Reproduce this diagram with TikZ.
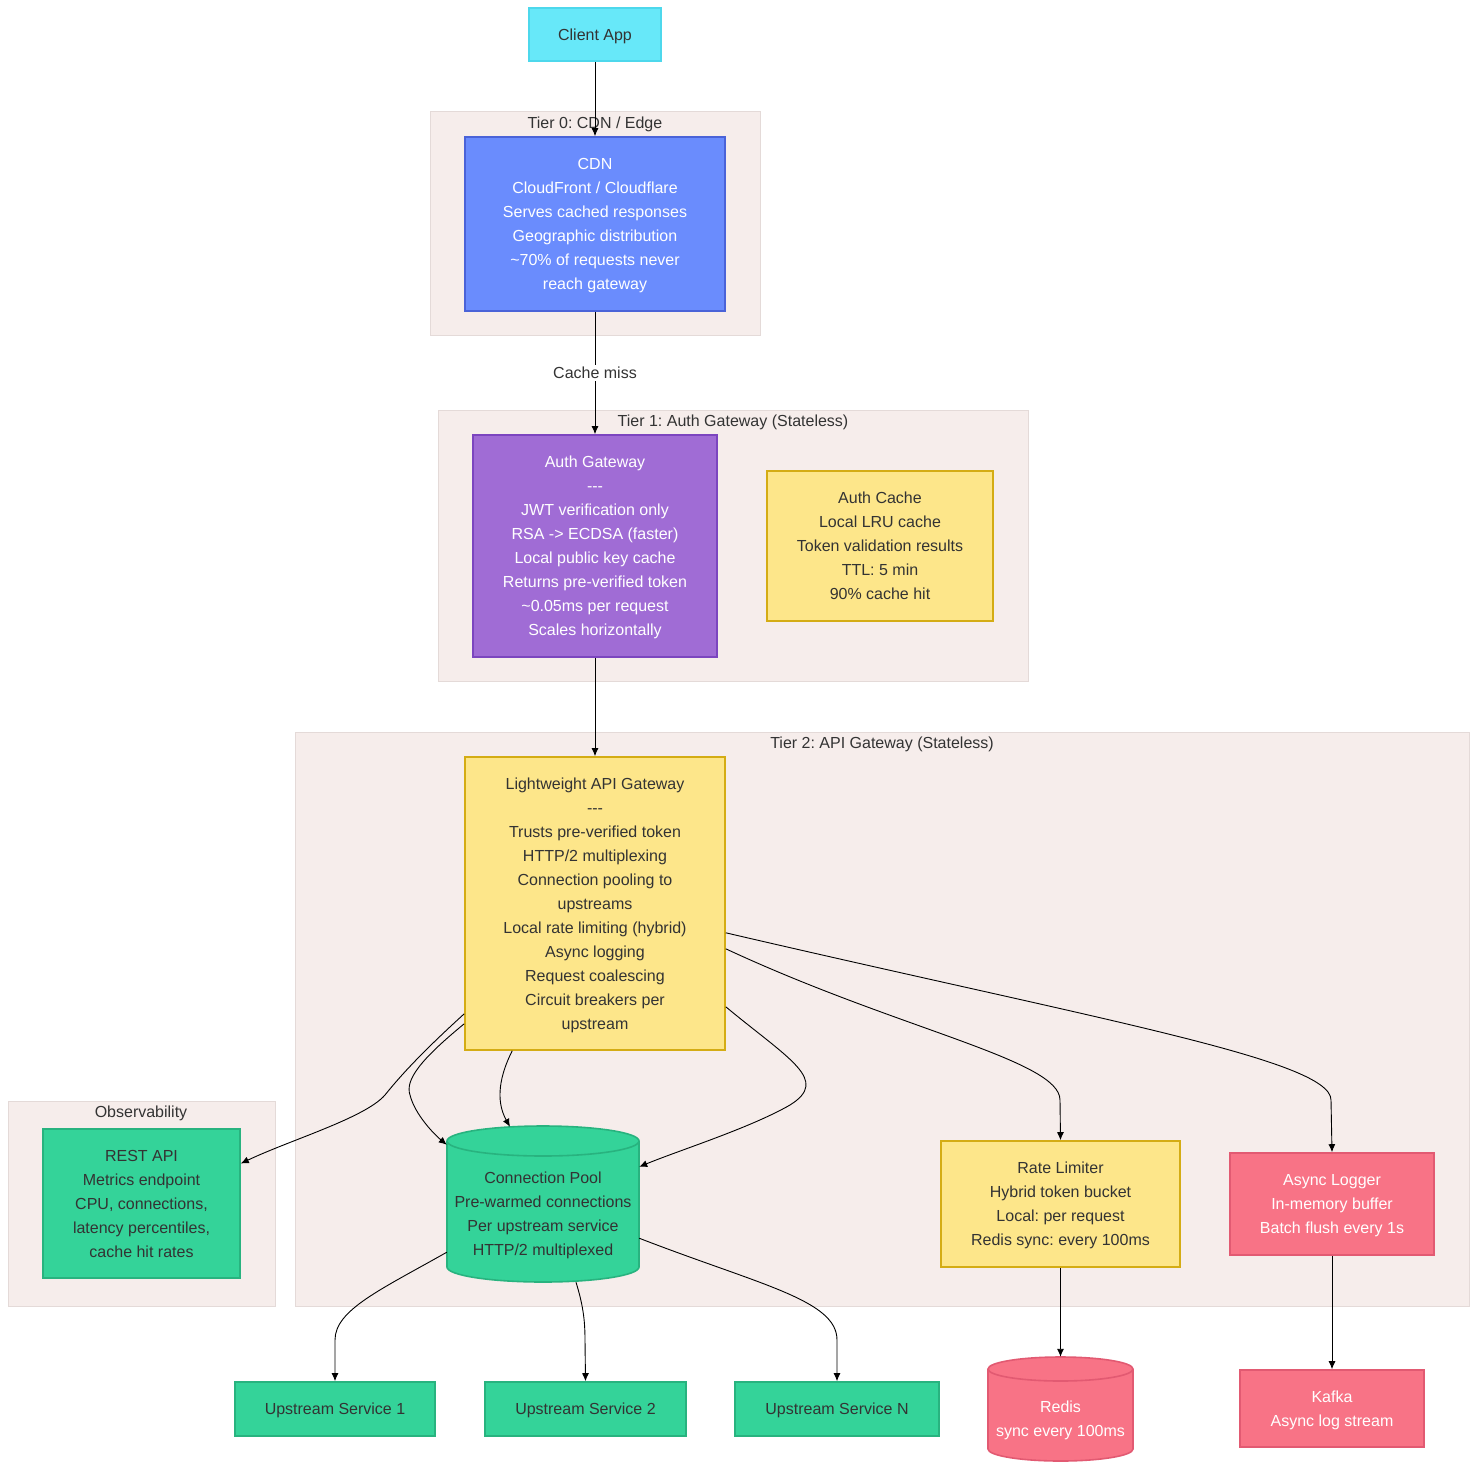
\documentclass[tikz,border=0pt]{standalone}
\usepackage{fontspec}
\setmainfont{Liberation Sans}
\usetikzlibrary{arrows.meta}
\definecolor{clusterfill}{HTML}{F6EDEB}
\definecolor{clusterline}{HTML}{E4DAD8}
\definecolor{textdark}{HTML}{333333}
\definecolor{cyanfill}{HTML}{67E8F9}
\definecolor{cyanline}{HTML}{4DD8EC}
\definecolor{bluefill}{HTML}{6A8CFD}
\definecolor{blueline}{HTML}{4A63D8}
\definecolor{purplefill}{HTML}{A06CD5}
\definecolor{purpleline}{HTML}{7C45BF}
\definecolor{yellowfill}{HTML}{FDE68A}
\definecolor{yellowline}{HTML}{D4AC14}
\definecolor{greenfill}{HTML}{34D399}
\definecolor{greenline}{HTML}{28B37F}
\definecolor{redfill}{HTML}{F87386}
\definecolor{redline}{HTML}{E25A72}
\begin{document}
\begin{tikzpicture}[
        x=1pt, y=-1pt,
        font=\fontsize{16}{24}\selectfont\frenchspacing,
        text=textdark
    ]
    \tikzset{
        tierbox/.style = {draw=clusterline, fill=clusterfill, line width=1pt},
        tierlabel/.style = {inner sep=0pt, text depth=0pt, text=textdark},
        box/.style = {rectangle, line width=1.6pt, align=center, inner sep=0pt, text depth=0pt},
        cyanbox/.style = {box, fill=cyanfill, draw=cyanline},
        bluebox/.style = {box, fill=bluefill, draw=blueline, text=white},
        purplebox/.style = {box, fill=purplefill, draw=purpleline, text=white},
        yellowbox/.style = {box, fill=yellowfill, draw=yellowline},
        greenbox/.style = {box, fill=greenfill, draw=greenline},
        redbox/.style = {box, fill=redfill, draw=redline, text=white},
        dbshape/.style = {line width=1.6pt},
        dbtext/.style = {rectangle, align=center, inner sep=0pt, text depth=0pt},
        link/.style = {-{Latex[length=8pt,width=7pt]}, line width=0.9pt, draw=black},
        edgelabel/.style = {midway, fill=white, inner sep=2pt, text=textdark}
    }
    \useasboundingbox (0,0) rectangle (1477,1469);
    % clusters
    \draw[tierbox] (430,112) rectangle (760,335);
    \node[tierlabel] (tier0) at (595,123) {Tier 0: CDN / Edge};
    \draw[tierbox] (438,410) rectangle (1028,681);
    \node[tierlabel] (tier1) at (733,421) {Tier 1: Auth Gateway (Stateless)};
    \draw[tierbox] (295,732) rectangle (1469,1306);
    \node[tierlabel] (tier2) at (882,743) {Tier 2: API Gateway (Stateless)};
    \draw[tierbox] (8,1101) rectangle (275,1306);
    \node[tierlabel] (obs) at (141,1112) {Observability};
    % nodes
    \node[cyanbox, minimum width=132pt, minimum height=53pt] (client) at (595,34.5) {Client App};
    \node[bluebox, minimum width=260pt, minimum height=174pt] (cdn) at (595,224)
        {CDN\\CloudFront / Cloudflare\\Serves cached responses\\Geographic distribution\\\textasciitilde70\% of requests never\\reach gateway};
    \node[purplebox, minimum width=244pt, minimum height=222pt] (auth) at (595,546)
        {Auth Gateway\\-{}-{}-\\JWT verification only\\RSA -> ECDSA (faster)\\Local public key cache\\Returns pre-verified token\\\textasciitilde0.05ms per request\\Scales horizontally};
    \node[yellowbox, minimum width=226pt, minimum height=150pt] (cache) at (880,546)
        {Auth Cache\\Local LRU cache\\Token validation results\\TTL: 5 min\\90\% cache hit};
    \node[yellowbox, minimum width=260pt, minimum height=293pt] (gw) at (595,903.5)
        {Lightweight API Gateway\\-{}-{}-\\Trusts pre-verified token\\HTTP/2 multiplexing\\Connection pooling to\\upstreams\\Local rate limiting (hybrid)\\Async logging\\Request coalescing\\Circuit breakers per\\upstream};
    \node[greenbox, minimum width=197pt, minimum height=149pt] (rest) at (141.5,1203.5)
        {REST API\\Metrics endpoint\\CPU, connections,\\latency percentiles,\\cache hit rates};
    \coordinate (poolc) at (543,1211.5);
    \path[dbshape, fill=greenfill, draw=greenline]
        ([shift={(-96pt,70.5pt)}]poolc) arc[start angle=180, end angle=0, x radius=96pt, y radius=15pt]
        -- ([shift={(96pt,-55.5pt)}]poolc) arc[start angle=0, end angle=-180, x radius=96pt, y radius=15pt] -- cycle;
    \draw[dbshape, draw=greenline] ([shift={(-96pt,70.5pt)}]poolc) arc[start angle=180, end angle=360, x radius=96pt, y radius=15pt];
    \node[dbtext, minimum width=192pt, minimum height=141pt] (pool) at ([yshift=-2pt]poolc)
        {Connection Pool\\Pre-warmed connections\\Per upstream service\\HTTP/2 multiplexed};
    \node[yellowbox, minimum width=239pt, minimum height=126pt] (rate) at (1060.5,1204)
        {Rate Limiter\\Hybrid token bucket\\Local: per request\\Redis sync: every 100ms};
    \node[redbox, minimum width=204pt, minimum height=102pt] (logger) at (1332,1204)
        {Async Logger\\In-memory buffer\\Batch flush every 1s};
    \node[greenbox, minimum width=200pt, minimum height=54pt] (up1) at (335,1409) {Upstream Service 1};
    \node[greenbox, minimum width=201pt, minimum height=54pt] (up2) at (585.5,1409) {Upstream Service 2};
    \node[greenbox, minimum width=204pt, minimum height=54pt] (upN) at (837,1409) {Upstream Service N};
    \coordinate (redisc) at (1060.5,1415);
    \path[dbshape, fill=redfill, draw=redline]
        ([shift={(-72.5pt,46pt)}]redisc) arc[start angle=180, end angle=0, x radius=72.5pt, y radius=12pt]
        -- ([shift={(72.5pt,-34pt)}]redisc) arc[start angle=0, end angle=-180, x radius=72.5pt, y radius=12pt] -- cycle;
    \draw[dbshape, draw=redline] ([shift={(-72.5pt,46pt)}]redisc) arc[start angle=180, end angle=360, x radius=72.5pt, y radius=12pt];
    \node[dbtext, text=white, minimum width=145pt, minimum height=92pt] (redis) at ([yshift=-4pt]redisc)
        {Redis\\sync every 100ms};
    \node[redbox, minimum width=184pt, minimum height=77pt] (kafka) at (1332,1408.5)
        {Kafka\\Async log stream};
    % connectors
    \draw[link] (client) -- (cdn);
    \draw[link] (cdn) -- node[edgelabel] {Cache miss} (auth);
    \draw[link] (auth) -- (gw);
    \draw[link] ([yshift=37pt]gw.south west) .. controls (430,1045) and (405,1070) .. (385,1095)
        .. controls (365,1118) and (290,1140) .. ([yshift=40pt]rest.east);
    \draw[link] ([yshift=27pt]gw.south west) .. controls (420,1060) and (405,1080) .. (410,1095)
        .. controls (415,1115) and (435,1135) .. ([yshift=-2pt]pool.north west);
    \draw[link] ([xshift=48pt]gw.south west) .. controls (500,1075) and (495,1100) .. ([xshift=-33pt,yshift=16pt]pool.north);
    \draw[link] ([yshift=44pt]gw.south east) .. controls (790,1060) and (830,1080) .. (790,1105)
        .. controls (750,1128) and (680,1150) .. ([yshift=-24pt]pool.north east);
    \draw[link] ([yshift=102pt]gw.south east) .. controls (900,1030) and (1060,1060) .. (1060,1100) -- (rate.north);
    \draw[link] ([yshift=118pt]gw.south east) .. controls (1100,1020) and (1331,1060) .. (1331,1100) -- (logger.north);
    \draw[link] ([yshift=32pt]pool.south west) .. controls (380,1290) and (335,1310) .. (335,1340) -- (up1.north);
    \draw[link] ([xshift=33pt,yshift=2pt]pool.south) .. controls (583,1305) and (585,1320) .. (585,1340) -- (up2.north);
    \draw[link] ([yshift=46pt]pool.south east) .. controls (760,1285) and (837,1300) .. (837,1340) -- (upN.north);
    \draw[link] (rate) -- ([yshift=16pt]redis.north);
    \draw[link] (logger) -- (kafka);
\end{tikzpicture}
\end{document}
